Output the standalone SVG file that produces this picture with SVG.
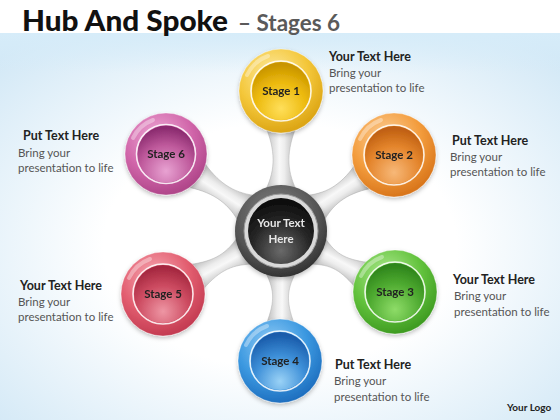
<svg xmlns="http://www.w3.org/2000/svg" width="560" height="420" viewBox="0 0 560 420">
<defs>
  <radialGradient id="bg" cx="50%" cy="55%" r="70%">
    <stop offset="0.45" stop-color="#ffffff"/>
    <stop offset="1" stop-color="#d2e8f6"/>
  </radialGradient>
  <linearGradient id="topband" x1="0" y1="0" x2="0" y2="1">
    <stop offset="0" stop-color="#d6ecf9"/>
    <stop offset="1" stop-color="#d6ecf9" stop-opacity="0"/>
  </linearGradient>
  <linearGradient id="spoke" x1="0" y1="0" x2="0" y2="1">
    <stop offset="0" stop-color="#b8b8b8"/>
    <stop offset="0.45" stop-color="#f8f8f8"/>
    <stop offset="0.6" stop-color="#ededed"/>
    <stop offset="1" stop-color="#ababab"/>
  </linearGradient>
  <filter id="sh" x="-30%" y="-30%" width="160%" height="170%">
    <feDropShadow dx="0" dy="2" stdDeviation="2" flood-color="#000" flood-opacity="0.25"/>
  </filter>
  <radialGradient id="hubRing" cx="45%" cy="35%" r="65%">
    <stop offset="0" stop-color="#8a8a8a"/>
    <stop offset="0.7" stop-color="#555"/>
    <stop offset="1" stop-color="#333"/>
  </radialGradient>
  <radialGradient id="hubIn" cx="50%" cy="80%" r="75%">
    <stop offset="0" stop-color="#6a6a6a"/>
    <stop offset="0.6" stop-color="#262626"/>
    <stop offset="1" stop-color="#0d0d0d"/>
  </radialGradient>
  <radialGradient id="r1" cx="40%" cy="30%" r="70%"><stop offset="0" stop-color="#fdeaa0"/><stop offset="0.6" stop-color="#f4c73a"/><stop offset="1" stop-color="#dca515"/></radialGradient>
  <radialGradient id="i1" cx="50%" cy="80%" r="75%"><stop offset="0" stop-color="#ffdf5a"/><stop offset="0.6" stop-color="#ecb90c"/><stop offset="1" stop-color="#c99500"/></radialGradient>
  <radialGradient id="r2" cx="40%" cy="30%" r="70%"><stop offset="0" stop-color="#fccf98"/><stop offset="0.6" stop-color="#f39c3c"/><stop offset="1" stop-color="#d9761c"/></radialGradient>
  <radialGradient id="i2" cx="50%" cy="80%" r="75%"><stop offset="0" stop-color="#f7b878"/><stop offset="0.6" stop-color="#e4852c"/><stop offset="1" stop-color="#c06012"/></radialGradient>
  <radialGradient id="r3" cx="40%" cy="30%" r="70%"><stop offset="0" stop-color="#b0ea92"/><stop offset="0.6" stop-color="#62c23c"/><stop offset="1" stop-color="#3f9c22"/></radialGradient>
  <radialGradient id="i3" cx="50%" cy="80%" r="75%"><stop offset="0" stop-color="#8edc68"/><stop offset="0.6" stop-color="#4eaa30"/><stop offset="1" stop-color="#2f861c"/></radialGradient>
  <radialGradient id="r4" cx="40%" cy="30%" r="70%"><stop offset="0" stop-color="#92ccf6"/><stop offset="0.6" stop-color="#3b98e0"/><stop offset="1" stop-color="#1f70c0"/></radialGradient>
  <radialGradient id="i4" cx="50%" cy="85%" r="80%"><stop offset="0" stop-color="#9ad2f6"/><stop offset="0.55" stop-color="#3d8fd8"/><stop offset="1" stop-color="#1a5cab"/></radialGradient>
  <radialGradient id="r5" cx="40%" cy="30%" r="70%"><stop offset="0" stop-color="#f7aab5"/><stop offset="0.6" stop-color="#e25d6f"/><stop offset="1" stop-color="#c43c52"/></radialGradient>
  <radialGradient id="i5" cx="50%" cy="80%" r="75%"><stop offset="0" stop-color="#ee96a4"/><stop offset="0.6" stop-color="#cc4a60"/><stop offset="1" stop-color="#a52840"/></radialGradient>
  <radialGradient id="r6" cx="40%" cy="30%" r="70%"><stop offset="0" stop-color="#eeaad6"/><stop offset="0.6" stop-color="#d166aa"/><stop offset="1" stop-color="#b0468a"/></radialGradient>
  <radialGradient id="i6" cx="50%" cy="80%" r="75%"><stop offset="0" stop-color="#e8a2d2"/><stop offset="0.6" stop-color="#bf5a9c"/><stop offset="1" stop-color="#8c2c70"/></radialGradient>
  <style>
    .title{font-family:Lato,"Liberation Sans",sans-serif;font-weight:900;font-size:28px;fill:#111}
    .sub{font-family:Lato,"Liberation Sans",sans-serif;font-weight:bold;font-size:22px;fill:#5a5a5a}
    .lbl{font-family:Lato,"Liberation Sans",sans-serif;font-weight:bold;font-size:11.5px;fill:#222;text-anchor:middle}
    .hubt{font-family:Lato,"Liberation Sans",sans-serif;font-weight:bold;font-size:11.5px;fill:#e6e6e6;text-anchor:middle}
    .hd{font-family:Lato,"Liberation Sans",sans-serif;font-weight:bold;font-size:12.5px;fill:#222}
    .bd{font-family:Lato,"Liberation Sans",sans-serif;font-size:11.5px;fill:#555}
    .logo{font-family:Lato,"Liberation Sans",sans-serif;font-weight:bold;font-size:10px;fill:#222}
    .ring{stroke:#ffffff;stroke-opacity:0.35;stroke-width:1}
    .wring{fill:none;stroke:#fff;stroke-opacity:0.85;stroke-width:1.6}
    .gloss{fill:none;stroke:#fff;stroke-opacity:0.35;stroke-width:4;stroke-linecap:round}
    .spk{fill:url(#spoke);stroke:#b0b0b0;stroke-width:0.5}
  </style>
</defs>

<rect x="0" y="0" width="560" height="420" fill="#ffffff"/>
<rect x="0" y="33" width="560" height="387" fill="url(#bg)"/>
<rect x="0" y="33" width="560" height="40" fill="url(#topband)"/>

<text x="22" y="31" class="title" textLength="206" lengthAdjust="spacingAndGlyphs">Hub And Spoke</text>
<text x="238" y="31" class="sub" textLength="102" lengthAdjust="spacingAndGlyphs">– Stages 6</text>

<g id="connectors">
  <path class="spk" transform="translate(281,231) rotate(-90)" d="M38,-17 C58,-6 77,-5 101,-14 L101,14 C77,5 58,6 38,17 Z"/>
  <path class="spk" transform="translate(281,231) rotate(-33.6)" d="M38,-17 C58,-6 74,-5 98,-14 L98,14 C74,5 58,6 38,17 Z"/>
  <path class="spk" transform="translate(281,231) rotate(28.5)" d="M38,-17 C58,-6 68,-5 92,-14 L92,14 C68,5 58,6 38,17 Z"/>
  <path class="spk" transform="translate(281,231) rotate(90.4)" d="M38,-17 C58,-6 69,-5 93,-14 L93,14 C69,5 58,6 38,17 Z"/>
  <path class="spk" transform="translate(281,231) rotate(151.5)" d="M38,-17 C58,-6 72,-5 96,-14 L96,14 C72,5 58,6 38,17 Z"/>
  <path class="spk" transform="translate(281,231) rotate(-146.5)" d="M38,-17 C58,-6 76,-5 100,-14 L100,14 C76,5 58,6 38,17 Z"/>
</g>

<g id="hub" filter="url(#sh)">
  <circle cx="281" cy="231" r="46" fill="url(#hubRing)"/>
  <circle cx="281" cy="231" r="37" fill="#d9d9d9" stroke="#9a9a9a" stroke-width="1"/>
  <circle cx="281" cy="231" r="33" fill="url(#hubIn)"/>
  <text x="281" y="227" class="hubt">Your Text</text>
  <text x="281" y="243" class="hubt">Here</text>
</g>

<g id="stage1" filter="url(#sh)">
  <circle cx="281" cy="91" r="42" fill="url(#r1)" class="ring"/>
  <path class="gloss" d="M247,75 A37,37 0 0 1 268,56"/>
  <circle cx="281" cy="91" r="30" class="wring"/>
  <circle cx="281" cy="91" r="29" fill="url(#i1)"/>
  <text x="281" y="95" class="lbl">Stage 1</text>
</g>
<g id="stage2" filter="url(#sh)">
  <circle cx="394" cy="155" r="42" fill="url(#r2)" class="ring"/>
  <path class="gloss" d="M360,139 A37,37 0 0 1 381,120"/>
  <circle cx="394" cy="155" r="30" class="wring"/>
  <circle cx="394" cy="155" r="29" fill="url(#i2)"/>
  <text x="394" y="159" class="lbl">Stage 2</text>
</g>
<g id="stage3" filter="url(#sh)">
  <circle cx="395" cy="292" r="42" fill="url(#r3)" class="ring"/>
  <path class="gloss" d="M361,276 A37,37 0 0 1 382,257"/>
  <circle cx="395" cy="292" r="30" class="wring"/>
  <circle cx="395" cy="292" r="29" fill="url(#i3)"/>
  <text x="395" y="296" class="lbl">Stage 3</text>
</g>
<g id="stage4" filter="url(#sh)">
  <circle cx="280" cy="361" r="42" fill="url(#r4)" class="ring"/>
  <path class="gloss" d="M246,345 A37,37 0 0 1 267,326"/>
  <circle cx="280" cy="361" r="30" class="wring"/>
  <circle cx="280" cy="361" r="29" fill="url(#i4)"/>
  <text x="280" y="365" class="lbl">Stage 4</text>
</g>
<g id="stage5" filter="url(#sh)">
  <circle cx="163" cy="294" r="42" fill="url(#r5)" class="ring"/>
  <path class="gloss" d="M129,278 A37,37 0 0 1 150,259"/>
  <circle cx="163" cy="294" r="30" class="wring"/>
  <circle cx="163" cy="294" r="29" fill="url(#i5)"/>
  <text x="163" y="298" class="lbl">Stage 5</text>
</g>
<g id="stage6" filter="url(#sh)">
  <circle cx="166" cy="154" r="41" fill="url(#r6)" class="ring"/>
  <path class="gloss" d="M133,138 A36,36 0 0 1 153,120"/>
  <circle cx="166" cy="154" r="29.5" class="wring"/>
  <circle cx="166" cy="154" r="28.5" fill="url(#i6)"/>
  <text x="166" y="158" class="lbl">Stage 6</text>
</g>

<g id="text1">
  <text x="329" y="61" class="hd">Your Text Here</text>
  <text x="329" y="77" class="bd">Bring your</text>
  <text x="329" y="92" class="bd">presentation to life</text>
</g>
<g id="text2">
  <text x="452" y="145" class="hd">Put Text Here</text>
  <text x="450" y="161" class="bd">Bring your</text>
  <text x="450" y="176" class="bd">presentation to life</text>
</g>
<g id="text3">
  <text x="453" y="284" class="hd">Your Text Here</text>
  <text x="454" y="300" class="bd">Bring your</text>
  <text x="454" y="316" class="bd">presentation to life</text>
</g>
<g id="text4">
  <text x="335" y="369" class="hd">Put Text Here</text>
  <text x="334" y="385" class="bd">Bring your</text>
  <text x="334" y="401" class="bd">presentation to life</text>
</g>
<g id="text5">
  <text x="20" y="290" class="hd">Your Text Here</text>
  <text x="18" y="306" class="bd">Bring your</text>
  <text x="18" y="321" class="bd">presentation to life</text>
</g>
<g id="text6">
  <text x="23" y="140" class="hd">Put Text Here</text>
  <text x="18" y="157" class="bd">Bring your</text>
  <text x="18" y="172" class="bd">presentation to life</text>
</g>
<text x="507" y="411" class="logo">Your Logo</text>
</svg>
